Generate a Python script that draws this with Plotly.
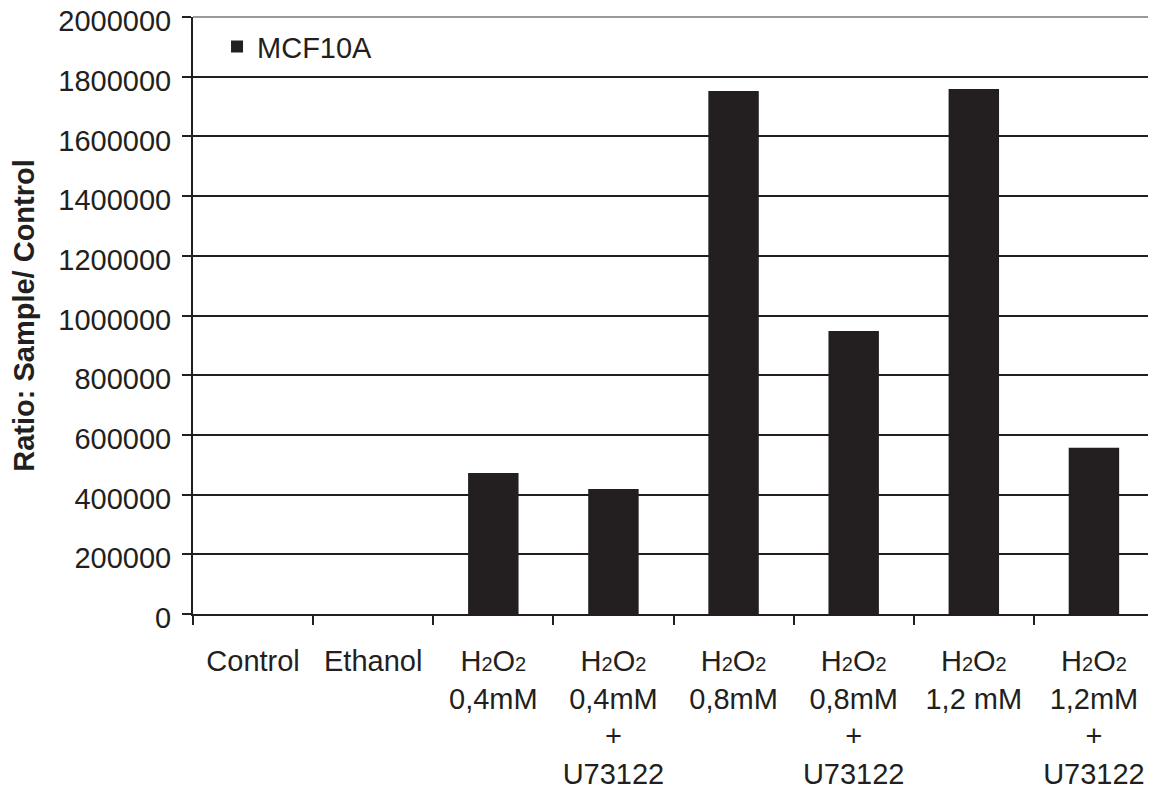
import plotly.graph_objects as go

categories = ["Control", "Ethanol", "H2O2 0.4", "H2O2 0.4 + U", "H2O2 0.8",
              "H2O2 0.8 + U", "H2O2 1.2", "H2O2 1.2 + U"]
H2O2 = "H<span style='font-size:20px'>2</span>O<span style='font-size:20px'>2</span>"
tick_labels = [
    "Control",
    "Ethanol",
    H2O2 + "<br>0,4mM",
    H2O2 + "<br>0,4mM<br>+<br>U73122",
    H2O2 + "<br>0,8mM",
    H2O2 + "<br>0,8mM<br>+<br>U73122",
    H2O2 + "<br>1,2 mM",
    H2O2 + "<br>1,2mM<br>+<br>U73122",
]
mcf10a = [1, 1, 472000, 419000, 1752000, 948000, 1759000, 557000]
y_ticks = list(range(0, 2000001, 200000))

DARK = "#231f20"
FONT = "Liberation Sans, Arial, sans-serif"

fig = go.Figure()
fig.add_trace(go.Bar(
    x=categories, y=mcf10a, name="MCF10A",
    marker=dict(color=DARK, line=dict(width=0)),
    width=0.42,
))

# page body has an 8px default margin, so the figure is 8px smaller
fig.update_layout(
    width=1148, height=786,
    margin=dict(l=185, r=2, t=9, b=180, pad=0),
    paper_bgcolor="white", plot_bgcolor="white",
    font=dict(family=FONT, size=29, color=DARK),
    showlegend=True,
    legend=dict(x=0.025, y=0.993, xanchor="left", yanchor="top",
                bgcolor="rgba(0,0,0,0)", borderwidth=0,
                font=dict(size=29, color=DARK)),
    xaxis=dict(
        type="category", automargin=False,
        tickmode="array", tickvals=categories, ticktext=tick_labels,
        tickson="boundaries", ticks="outside", ticklen=9, tickwidth=2,
        tickcolor=DARK, showgrid=False, ticklabelstandoff=20,
        ticklabeloverflow="allow",
        showline=True, linecolor=DARK, linewidth=2,
        tickfont=dict(size=29, color=DARK),
    ),
    yaxis=dict(
        range=[0, 2000000], automargin=False,
        tickmode="array", tickvals=y_ticks, tickformat="d",
        ticks="outside", ticklen=9, tickwidth=2, tickcolor=DARK,
        ticklabelstandoff=5, ticklabelshift=4, ticklabeloverflow="allow",
        showgrid=True, gridcolor=DARK, gridwidth=2,
        zeroline=False,
        showline=True, linecolor=DARK, linewidth=2,
        tickfont=dict(size=29, color=DARK),
        title=dict(text="<b>Ratio: Sample/ Control</b>",
                   font=dict(size=29, color=DARK), standoff=19),
    ),
    shapes=[
        dict(type="line", xref="paper", yref="paper", x0=0, x1=1, y0=1, y1=1,
             line=dict(color="#9a9a9a", width=2)),
        dict(type="line", xref="paper", yref="paper", x0=1, x1=1, y0=0, y1=1,
             line=dict(color="#9a9a9a", width=2)),
    ],
)

fig.write_html("out.html")
